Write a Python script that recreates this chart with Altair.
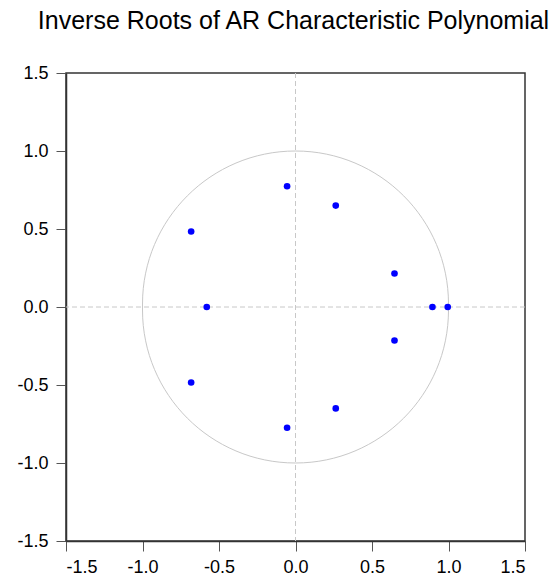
import altair as alt
import pandas as pd

root_re = [0.995, 0.895, 0.647, 0.647, 0.263, 0.263, -0.055, -0.055, -0.682, -0.682, -0.58]
root_im = [0.0, 0.0, 0.215, -0.215, 0.65, -0.65, 0.774, -0.774, 0.484, -0.484, 0.0]
tick_vals = [-1.5, -1.0, -0.5, 0.0, 0.5, 1.0, 1.5]
title_text = "Inverse Roots of AR Characteristic Polynomial"

roots = pd.DataFrame({"re": root_re, "im": root_im})
unit = pd.DataFrame({"x1": [-1.0], "x2": [1.0], "y1": [-1.0], "y2": [1.0]})
zero = pd.DataFrame({"z": [0.0]})

FONT = "Liberation Sans"
lbl = "datum.value < 0 ? '-' + format(-datum.value, '.1f') : format(datum.value, '.1f')"

xs = alt.Scale(domain=[-1.5, 1.5], nice=False, zero=False)
ys = alt.Scale(domain=[-1.5, 1.5], nice=False, zero=False)

xaxis = alt.Axis(values=tick_vals, labelExpr=lbl, title=None, grid=False,
                 tickSize=10, labelPadding=7, labelFontSize=18, labelFont=FONT,
                 labelColor="black", domainColor="#333333", domainWidth=1.5,
                 tickColor="#555555", tickWidth=1)
yaxis = alt.Axis(values=tick_vals, labelExpr=lbl, title=None, grid=False,
                 tickSize=10, labelPadding=8, labelFontSize=18, labelFont=FONT,
                 labelColor="black", domainColor="#333333", domainWidth=1.5,
                 tickColor="#555555", tickWidth=1)

circle = alt.Chart(unit).mark_rect(
    fillOpacity=0, stroke="#c8c8c8", strokeWidth=1, cornerRadius=200
).encode(
    x=alt.X("x1:Q", scale=xs, axis=xaxis),
    x2="x2:Q",
    y=alt.Y("y1:Q", scale=ys, axis=yaxis),
    y2="y2:Q",
)

vline = alt.Chart(zero).mark_rule(color="#c8c8c8", strokeDash=[5, 3], strokeWidth=1).encode(
    x=alt.X("z:Q", scale=xs)
)
hline = alt.Chart(zero).mark_rule(color="#c8c8c8", strokeDash=[5, 3], strokeWidth=1).encode(
    y=alt.Y("z:Q", scale=ys)
)

points = alt.Chart(roots).mark_circle(color="#0000ff", opacity=1, size=44).encode(
    x=alt.X("re:Q", scale=xs),
    y=alt.Y("im:Q", scale=ys),
)

chart = alt.layer(vline, hline, circle, points).properties(
    width=459,
    height=468,
    background="white",
    autosize=alt.AutoSizeParams(type="none"),
    padding={"left": 66, "top": 73, "right": 29, "bottom": 42},
    title=alt.TitleParams(title_text, fontSize=25, font=FONT, fontWeight="normal",
                          color="black", anchor="middle", baseline="alphabetic",
                          offset=10, dx=-2),
).configure_view(
    stroke="#333333", strokeWidth=1.5
)

chart.save("out.html", embed_options={"renderer": "svg", "actions": False})
